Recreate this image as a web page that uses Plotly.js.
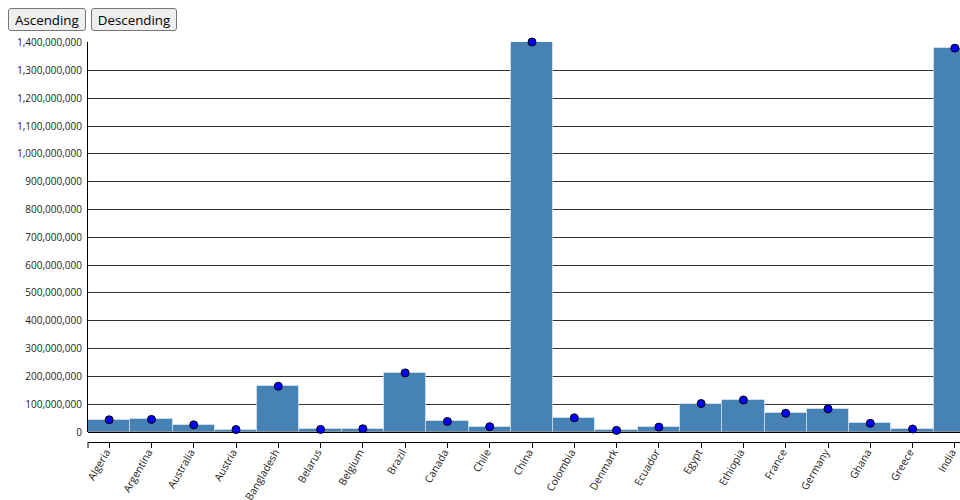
<!DOCTYPE html>
<html>
<head>
<meta charset="utf-8">
<script src="https://cdn.plot.ly/plotly-3.0.1.min.js"></script>
<style>
  html, body { margin: 0; padding: 0; overflow: hidden; width: 960px; height: 500px; background: #fff; }
  #controls { position: absolute; left: 8px; top: 8px; z-index: 10; }
  #controls button {
    font-family: "Open Sans", sans-serif; font-size: 13.33px; color: #000;
    background: #efefef; border: 1px solid #767676; border-radius: 3px;
    padding: 1px 6px; height: 23px; margin-right: 1px; cursor: pointer;
  }
  #chart { position: absolute; left: 0; top: 0; }
</style>
</head>
<body>
<div id="controls">
  <button id="asc">Ascending</button>
  <button id="desc">Descending</button>
</div>
<div id="chart"></div>
<script>
const countries = ["Algeria","Argentina","Australia","Austria","Bangladesh","Belarus","Belgium","Brazil","Canada","Chile","China","Colombia","Denmark","Ecuador","Egypt","Ethiopia","France","Germany","Ghana","Greece","India"];
const population = [43851044,45376763,25687041,8917205,164689383,9379952,11555997,212559409,38005238,19116209,1402112000,50882884,5831404,17643060,102334403,114963583,67391582,83240525,31072945,10715549,1380004385];
const yTickValues = [0,100000000,200000000,300000000,400000000,500000000,600000000,700000000,800000000,900000000,1000000000,1100000000,1200000000,1300000000,1400000000];

const W = 1000, H = 500;
const L = 88, R = W - 976, T = 42, B = H - 442;

function buildTraces(cats, vals) {
  return [
    {
      type: 'bar', x: cats, y: vals,
      marker: { color: '#4682b4', line: { color: 'rgba(255,255,255,0.45)', width: 1 } },
      hoverinfo: 'x+y'
    },
    {
      type: 'scatter', mode: 'markers', x: cats, y: vals,
      marker: { color: '#0000ff', size: 8, line: { color: '#000', width: 1 } },
      hoverinfo: 'skip', cliponaxis: false
    }
  ];
}

const layout = {
  width: W, height: H,
  margin: { l: L, r: R, t: T, b: B, pad: 0, autoexpand: false },
  showlegend: false,
  bargap: 0,
  paper_bgcolor: '#fff', plot_bgcolor: '#fff',
  font: { family: '"Open Sans", sans-serif', size: 10, color: '#222' },
  xaxis: {
    type: 'category', anchor: 'free', position: 0,
    range: [-0.5, countries.length - 0.5], autorange: false, automargin: false,
    showline: true, linecolor: '#000', linewidth: 1,
    ticks: 'outside', ticklen: 5, tickcolor: '#000', tickwidth: 1,
    tickangle: -60, ticklabelstandoff: -6, ticklabelshift: -3, tickfont: { size: 10.5, color: '#222' },
    showgrid: false, zeroline: false, fixedrange: true
  },
  yaxis: {
    domain: [0.025, 1], range: [0, 1402112000], automargin: false,
    tickvals: yTickValues, tickformat: ',d',
    showline: true, linecolor: '#000', linewidth: 1,
    ticks: '', ticklabelstandoff: 3,
    showgrid: true, gridcolor: '#333', gridwidth: 1,
    zeroline: true, zerolinecolor: '#000', zerolinewidth: 1.5,
    tickfont: { size: 10, color: '#222' }, fixedrange: true
  },
  shapes: [
    { type: 'line', xref: 'paper', yref: 'paper', x0: 0, x1: 0, y0: 0, y1: -6 / (H - T - B), line: { color: '#000', width: 1 } }
  ]
};

const config = { displayModeBar: false, staticPlot: false, responsive: false };

Plotly.newPlot('chart', buildTraces(countries, population), layout, config);

function sortBy(dir) {
  const idx = countries.map((_, i) => i).sort((a, b) => dir * (population[a] - population[b]));
  Plotly.react('chart', buildTraces(idx.map(i => countries[i]), idx.map(i => population[i])), layout, config);
}
document.getElementById('asc').onclick = () => sortBy(1);
document.getElementById('desc').onclick = () => sortBy(-1);
</script>
</body>
</html>
